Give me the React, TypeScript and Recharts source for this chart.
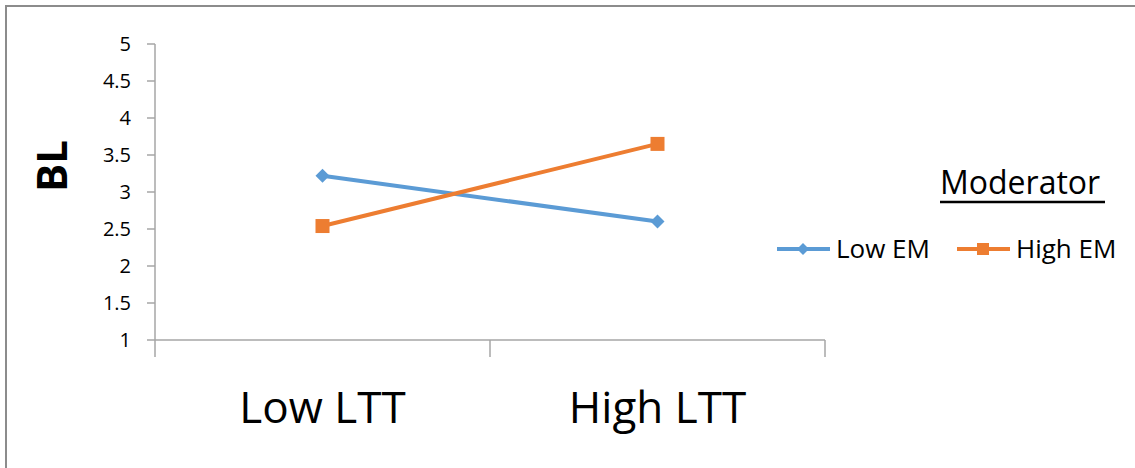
import React from 'react';
import { LineChart, Line, XAxis, YAxis, Legend } from 'recharts';

// interaction plot: BL by LTT level, split by EM moderator
const categories = ['Low LTT', 'High LTT'];
const seriesNames = ['Low EM', 'High EM'];
const lowEM = [3.22, 2.6];
const highEM = [2.54, 3.65];
const yTicks = [1, 1.5, 2, 2.5, 3, 3.5, 4, 4.5, 5];

const BLUE = '#5b9bd5';
const ORANGE = '#ed7d31';
const AXIS = '#a6a6a6';
const FONT = '"Open Sans", sans-serif';

// categories sit in the middle of each unit band; band edges get the tick marks
const data = categories.map((name, i) => ({
  name,
  pos: i + 0.5,
  low: lowEM[i],
  high: highEM[i],
}));
const xTicks = [0, ...categories.flatMap((_, i) => [i + 0.5, i + 1])];

const Diamond = ({ cx, cy, r = 7, fill }: any) => (
  <polygon points={`${cx},${cy - r} ${cx + r},${cy} ${cx},${cy + r} ${cx - r},${cy}`} fill={fill} />
);

const Square = ({ cx, cy, r = 7, fill }: any) => (
  <rect x={cx - r} y={cy - r} width={r * 2} height={r * 2} fill={fill} />
);

const XTick = ({ x, y, payload }: any) => {
  const v = payload.value;
  if (Number.isInteger(v)) {
    return <line x1={x} x2={x} y1={y} y2={y + 17} stroke={AXIS} strokeWidth={1.5} />;
  }
  return (
    <text x={x} y={y + 83} textAnchor="middle" fontSize={44} fill="#000" fontFamily={FONT}>
      {categories[Math.floor(v)]}
    </text>
  );
};

const renderLegend = ({ payload }: any) => {
  const items = [...(payload || [])].sort(
    (a: any, b: any) => seriesNames.indexOf(a.value) - seriesNames.indexOf(b.value)
  );
  return (
    <svg width={358} height={110}>
      <text x={163} y={34} fontSize={32} fontFamily={FONT} fill="#000">Moderator</text>
      <line x1={163} x2={328} y1={42} y2={42} stroke="#000" strokeWidth={2.5} />
      {items.map((entry: any, i: number) => {
        const x0 = i * 180;
        return (
          <g key={entry.value}>
            <line x1={x0} x2={x0 + 53} y1={89} y2={89} stroke={entry.color} strokeWidth={4} />
            {i === 0 ? (
              <Diamond cx={x0 + 26} cy={89} r={6} fill={entry.color} />
            ) : (
              <Square cx={x0 + 26} cy={89} r={6} fill={entry.color} />
            )}
            <text x={x0 + 59} y={98} fontSize={26} fontFamily={FONT} fill="#000">{entry.value}</text>
          </g>
        );
      })}
    </svg>
  );
};

export default function App() {
  return (
    <div style={{ position: 'absolute', left: 0, top: 0, width: 1135, height: 468, background: '#fff', overflow: 'hidden' }}>
      <div
        style={{
          position: 'absolute',
          left: 5,
          top: 5,
          width: 1140,
          height: 470,
          borderLeft: '2px solid #8c8c8c',
          borderTop: '2px solid #8c8c8c',
        }}
      />
      <LineChart
        width={1135}
        height={468}
        data={data}
        margin={{ top: 44, right: 310, bottom: 38, left: 95 }}
        style={{ position: 'absolute', left: 0, top: 0 }}
      >
        <XAxis
          dataKey="pos"
          type="number"
          domain={[0, categories.length]}
          ticks={xTicks}
          interval={0}
          tickLine={false}
          tickSize={0}
          tickMargin={0}
          height={90}
          stroke={AXIS}
          strokeWidth={1.5}
          tick={<XTick />}
        />
        <YAxis
          domain={[1, 5]}
          ticks={yTicks}
          interval={0}
          width={60}
          tickSize={8}
          tickMargin={16}
          stroke={AXIS}
          strokeWidth={1.5}
          tick={{ fontSize: 20, fill: '#000', fontFamily: FONT }}
          label={{
            content: () => (
              <text
                x={50}
                y={166}
                transform="rotate(-90, 50, 166)"
                textAnchor="middle"
                dominantBaseline="central"
                fontSize={42}
                fontWeight="bold"
                fontFamily={FONT}
                fill="#000"
              >
                BL
              </text>
            ),
          }}
        />
        <Legend
          layout="horizontal"
          verticalAlign="middle"
          align="center"
          content={renderLegend}
          wrapperStyle={{ position: 'absolute', left: 777, top: 160, width: 358, height: 110 }}
        />
        <Line
          dataKey="low"
          name={seriesNames[0]}
          stroke={BLUE}
          strokeWidth={4}
          isAnimationActive={false}
          dot={(p: any) => <Diamond key={p.index} cx={p.cx} cy={p.cy} r={7} fill={BLUE} />}
        />
        <Line
          dataKey="high"
          name={seriesNames[1]}
          stroke={ORANGE}
          strokeWidth={4}
          isAnimationActive={false}
          dot={(p: any) => <Square key={p.index} cx={p.cx} cy={p.cy} r={7} fill={ORANGE} />}
        />
      </LineChart>
    </div>
  );
}
